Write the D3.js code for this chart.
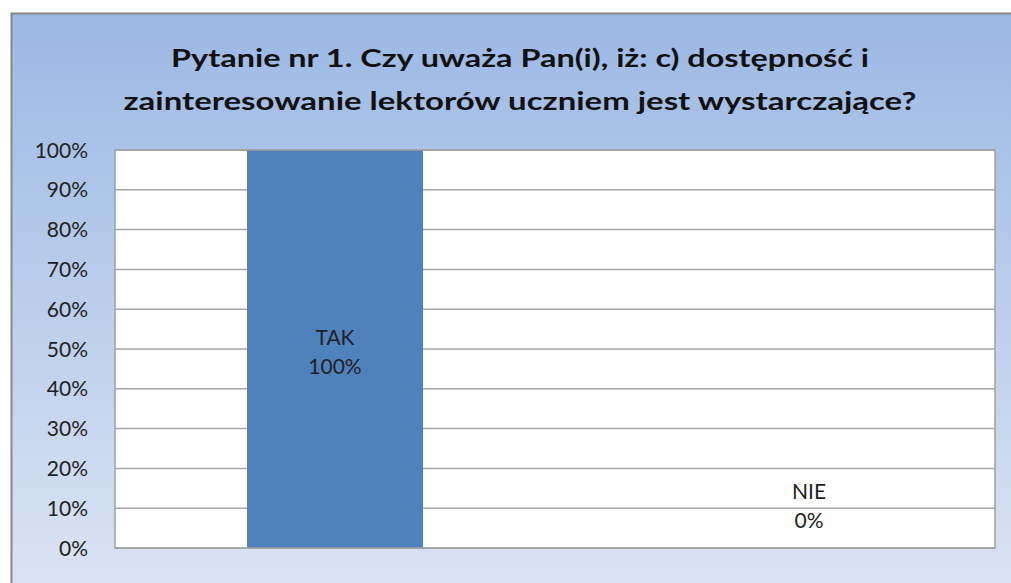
<!DOCTYPE html>
<html><head><meta charset="utf-8">
<script src="https://cdn.jsdelivr.net/npm/d3@7"></script>
<style>body{margin:0;background:#fff}svg{display:block}</style>
</head><body>
<script>
const categories = ["TAK", "NIE"];
const values = [100, 0];
const yTicks = [0, 10, 20, 30, 40, 50, 60, 70, 80, 90, 100];
const titleLines = ["Pytanie nr 1. Czy uważa Pan(i), iż: c) dostępność i", "zainteresowanie lektorów uczniem jest wystarczające?"];
const titleWidths = [698, 793];

const W = 1011, H = 583;
const svg = d3.select("body").append("svg").attr("width", W).attr("height", H);
const defs = svg.append("defs");
const g = defs.append("linearGradient").attr("id", "bg").attr("x1", 0).attr("y1", 0).attr("x2", 0).attr("y2", 1);
g.append("stop").attr("offset", "0%").attr("stop-color", "#9bb8e4");
g.append("stop").attr("offset", "100%").attr("stop-color", "#dde5f3");

svg.append("rect").attr("x", 11.5).attr("y", 13.5).attr("width", W + 10).attr("height", H + 10)
  .attr("fill", "url(#bg)").attr("stroke", "#888").attr("stroke-width", 2);

const font = "Lato, 'Open Sans', sans-serif";
svg.append("g").selectAll("text").data(titleLines).join("text")
  .attr("x", 520).attr("y", (d, i) => 67 + i * 43)
  .attr("text-anchor", "middle").attr("font-family", font).attr("font-weight", "bold")
  .attr("font-size", 24).attr("fill", "#111")
  .attr("textLength", (d, i) => titleWidths[i]).attr("lengthAdjust", "spacingAndGlyphs")
  .text(d => d);

const L = 115, R = 995, T = 150, B = 548;
const x = d3.scaleBand().domain(categories).range([L, R]).paddingInner(0.6).paddingOuter(0.3);
const y = d3.scaleLinear().domain([0, 100]).range([B, T]);

svg.append("rect").attr("x", L).attr("y", T).attr("width", R - L).attr("height", B - T).attr("fill", "#fff");

svg.append("g").selectAll("line").data(yTicks).join("line")
  .attr("x1", L).attr("x2", R).attr("y1", d => y(d)).attr("y2", d => y(d))
  .attr("stroke", "#a6a6a6").attr("stroke-width", 1.5);

svg.append("g").selectAll("rect").data(categories).join("rect")
  .attr("x", d => x(d)).attr("width", x.bandwidth())
  .attr("y", (d, i) => y(values[i])).attr("height", (d, i) => B - y(values[i]))
  .attr("fill", "#4f81bd");

svg.append("rect").attr("x", L).attr("y", T).attr("width", R - L).attr("height", B - T)
  .attr("fill", "none").attr("stroke", "#a0a0a0").attr("stroke-width", 1.5);

svg.append("g").selectAll("text").data(yTicks).join("text")
  .attr("x", 88).attr("y", d => y(d) + 7.5).attr("text-anchor", "end")
  .attr("font-family", font).attr("font-size", 21).attr("fill", "#222")
  .text(d => d + "%");

const lbl = svg.append("g").selectAll("g").data(categories).join("g")
  .attr("transform", (d, i) => {
    const cx = x(d) + x.bandwidth() / 2 + (values[i] === 0 ? 34 : 0);
    const cy = values[i] === 0 ? y(values[i]) - 49 : (y(values[i]) + B) / 2 - 4;
    return `translate(${cx},${cy})`;
  });
lbl.append("text").attr("text-anchor", "middle").attr("font-family", font).attr("font-size", 21).attr("fill", "#222")
  .text(d => d);
lbl.append("text").attr("y", 29).attr("text-anchor", "middle").attr("font-family", font).attr("font-size", 21).attr("fill", "#222")
  .text((d, i) => values[i] + "%");
</script>
</body></html>
